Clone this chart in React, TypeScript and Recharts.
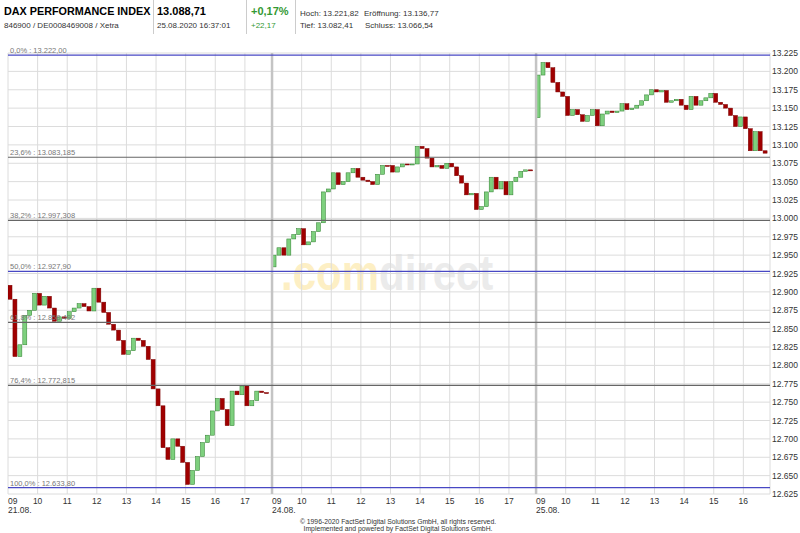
import React from 'react';
import { ComposedChart, Bar, XAxis, YAxis, CartesianGrid, ReferenceLine } from 'recharts';

// 10-minute closes per trading day (open of the day is its first print)
const day1Open = 12909;
const day1Closes = [
  12890, 12812, 12828, 12868, 12875, 12898, 12882, 12894, 12878, 12860,
  12866, 12864, 12873, 12878, 12884, 12880, 12874, 12905, 12886, 12872,
  12856, 12848, 12834, 12815, 12820, 12837, 12834, 12826, 12808, 12768,
  12745, 12688, 12672, 12700, 12690, 12668, 12638, 12657, 12676, 12695,
  12705, 12738, 12755, 12740, 12718, 12765, 12760, 12772, 12745, 12752,
  12765, 12763, 12763,
];
const day2Open = 12934;
const day2Closes = [
  12950, 12960, 12950, 12972, 12978, 12986, 12964, 12968, 12982, 12994,
  13036, 13040, 13062, 13046, 13050, 13062, 13068, 13056, 13052, 13050,
  13046, 13060, 13072, 13072, 13063, 13070, 13074, 13073, 13074, 13098,
  13095, 13082, 13070, 13072, 13068, 13075, 13070, 13058, 13048, 13032,
  13034, 13012, 13016, 13036, 13056, 13040, 13050, 13032, 13050, 13056,
  13064, 13066, 13066,
];
const day3Open = 13137;
const day3Closes = [
  13195, 13212, 13205, 13185, 13172, 13166, 13140, 13148, 13141, 13132,
  13140, 13148, 13126, 13142, 13146, 13144, 13146, 13156, 13148, 13150,
  13154, 13160, 13168, 13175, 13172, 13174, 13158, 13160, 13162, 13154,
  13148, 13166, 13154, 13160, 13164, 13170, 13158, 13155, 13150, 13140,
  13125, 13138, 13122, 13092, 13118, 13092, 13088.71,
];

const dayLabels = ['21.08.', '24.08.', '25.08.'];
const hourLabels = ['09', '10', '11', '12', '13', '14', '15', '16', '17'];
const hoursPerDay = [9, 9, 8];

const fibValues = [13222.0, 13083.185, 12997.308, 12927.9, 12858.492, 12772.815, 12633.8];
const fibTexts = [
  '0,0% : 13.222,00',
  '23,6% : 13.083,185',
  '38,2% : 12.997,308',
  '50,0% : 12.927,90',
  '61,8% : 12.858,492',
  '76,4% : 12.772,815',
  '100,0% : 12.633,80',
];
const fibBlue = [true, false, false, true, false, false, true];

const priceTicks = [
  12625, 12650, 12675, 12700, 12725, 12750, 12775, 12800, 12825, 12850, 12875, 12900, 12925,
  12950, 12975, 13000, 13025, 13050, 13075, 13100, 13125, 13150, 13175, 13200, 13225,
];

// one trading day on the axis = 09:00 .. 17:55, in minutes
const DAY = 535;
const SLOT = 10;

const days = [
  { open: day1Open, closes: day1Closes },
  { open: day2Open, closes: day2Closes },
  { open: day3Open, closes: day3Closes },
];

const candles: any[] = [];
days.forEach((d, di) => {
  let prev = d.open;
  d.closes.forEach((c, i) => {
    candles.push({
      t: di * DAY + i * SLOT + SLOT / 2,
      body: [Math.min(prev, c), Math.max(prev, c)],
      up: c > prev,
    });
    prev = c;
  });
});

const xTicks: number[] = [];
hoursPerDay.forEach((n, di) => {
  for (let h = 0; h < n; h++) xTicks.push(di * DAY + h * 60);
});

const fmtPrice = (v: number) => `${Math.floor(v / 1000)}.${String(v % 1000).padStart(3, '0')}`;

const FONT = '"Liberation Sans", Arial, sans-serif';
const GREEN = '#339933';

const Candle = (props: any) => {
  const { x, y, width, height, payload } = props;
  if (x == null || y == null) return null;
  const top = height < 0 ? y + height : y;
  const h = Math.max(Math.abs(height), 1);
  const up = payload.up;
  return (
    <rect
      x={x}
      y={top}
      width={width}
      height={h}
      fill={up ? '#7ed07e' : '#a00000'}
      stroke={up ? '#2b7d2b' : '#7a0000'}
      strokeWidth={0.5}
    />
  );
};

const HourTick = (props: any) => {
  const { x, y, payload } = props;
  const v = payload.value;
  const di = Math.floor(v / DAY);
  const h = Math.round((v - di * DAY) / 60);
  const first = h === 0;
  return (
    <g fontFamily={FONT} fontSize={8.5} fill="#333">
      <text x={x} y={y + 10} textAnchor={first ? 'start' : 'middle'}>{hourLabels[h]}</text>
      {first && <text x={x} y={y + 19} textAnchor="start">{dayLabels[di]}</text>}
    </g>
  );
};

const fibLabel = (i: number) => (p: any) => (
  <text x={p.viewBox.x + 2} y={p.viewBox.y - 2} fontFamily={FONT} fontSize={7.5} fill="#777">
    {fibTexts[i]}
  </text>
);

export default function App() {
  return (
    <div style={{ position: 'absolute', left: 0, top: 0, width: 800, height: 533, background: '#fff', fontFamily: FONT }}>
      <svg width={800} height={533} style={{ position: 'absolute', left: 0, top: 0 }} fontFamily={FONT}>
        {/* header */}
        <text x={4} y={15} fontSize={10.8} fontWeight="bold" fill="#000">DAX PERFORMANCE INDEX</text>
        <text x={4} y={28} fontSize={8} fill="#333">846900 / DE0008469008 / Xetra</text>
        <line x1={153.5} y1={0} x2={153.5} y2={34} stroke="#ccc" />
        <text x={157} y={15} fontSize={11} fontWeight="bold" fill="#000">13.088,71</text>
        <text x={157} y={28} fontSize={8} fill="#333">25.08.2020 16:37:01</text>
        <line x1={246.5} y1={0} x2={246.5} y2={34} stroke="#ccc" />
        <text x={251} y={15} fontSize={11} fontWeight="bold" fill={GREEN}>+0,17%</text>
        <text x={251} y={28} fontSize={8} fill={GREEN}>+22,17</text>
        <line x1={295.5} y1={0} x2={295.5} y2={34} stroke="#ccc" />
        <text x={300} y={16} fontSize={8} fill="#333">Hoch: 13.221,82</text>
        <text x={364} y={16} fontSize={8} fill="#333">Eröffnung: 13.136,77</text>
        <text x={300} y={28} fontSize={8} fill="#333">Tief: 13.082,41</text>
        <text x={365} y={28} fontSize={8} fill="#333">Schluss: 13.066,54</text>
        {/* watermark */}
        <g transform="translate(281,290) scale(1,1.2)">
          <text x={0} y={0} fontSize={42} fontWeight="bold">
            <tspan fill="#fdefc4">.com</tspan>
            <tspan fill="#ebebeb">direct</tspan>
          </text>
        </g>
        {/* footer */}
        <text x={398} y={524} fontSize={6.8} fill="#333" textAnchor="middle">
          © 1996-2020 FactSet Digital Solutions GmbH, all rights reserved.
        </text>
        <text x={398} y={531} fontSize={6.8} fill="#333" textAnchor="middle">
          Implemented and powered by FactSet Digital Solutions GmbH.
        </text>
      </svg>
      <div style={{ position: 'absolute', left: 0, top: 0 }}>
        <ComposedChart width={800} height={533} data={candles} margin={{ top: 53, right: 0, bottom: 14, left: 8 }}>
          <CartesianGrid stroke="#dcdcdc" strokeWidth={1} />
          <XAxis
            type="number"
            dataKey="t"
            domain={[0, 1544]}
            ticks={xTicks}
            allowDataOverflow
            axisLine={false}
            tickLine={false}
            tickSize={0}
            tickMargin={0}
            height={25}
            interval={0}
            tick={<HourTick />}
          />
          <YAxis
            orientation="right"
            domain={[12625, 13225]}
            ticks={priceTicks}
            allowDataOverflow
            width={30}
            axisLine={false}
            tickLine={false}
            tickSize={0}
            tickMargin={2}
            interval={0}
            tickFormatter={fmtPrice}
            tick={{ fontSize: 8.5, fill: '#333', fontFamily: FONT }}
          />
          <ReferenceLine x={DAY} stroke="#c4c4c4" strokeWidth={2.5} />
          <ReferenceLine x={2 * DAY} stroke="#c4c4c4" strokeWidth={2.5} />
          {fibValues.map((v, i) => (
            <ReferenceLine
              key={i}
              y={v}
              stroke={fibBlue[i] ? '#4848c4' : '#666'}
              strokeWidth={1.2}
              label={fibLabel(i)}
            />
          ))}
          <Bar dataKey="body" barSize={4} shape={<Candle />} isAnimationActive={false} />
        </ComposedChart>
      </div>
    </div>
  );
}
